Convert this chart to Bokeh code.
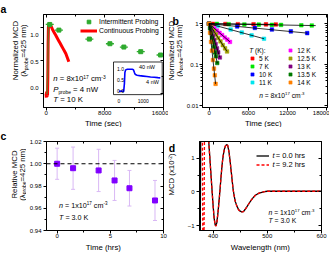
import math
from bokeh.plotting import figure
from bokeh.models import (Label, Legend, LegendItem, FixedTicker, LinearAxis, LogAxis,
                          Span, Whisker, ColumnDataSource, Range1d, TeeHead, Title,
                          NumeralTickFormatter, CustomJSTickFormatter)
from bokeh.layouts import column, row
from bokeh.embed import file_html
from bokeh.resources import INLINE
from bokeh.core.properties import value

FONT = "Liberation Sans"

# ---------------- panel a data ----------------
cont_t = [0, 40, 80, 120, 160, 200, 240, 280, 320, 380, 450, 550, 700, 900, 1100, 1300,
          1500, 1700, 1900, 2100, 2300, 2500, 2700, 2900, 3100]
cont_v = [0.0, -0.06, 0.03, -0.05, 0.02, -0.03, 0.25, 0.75, 1.0, 1.05, 1.05, 1.04, 1.01,
          0.96, 0.92, 0.88, 0.84, 0.80, 0.76, 0.72, 0.68, 0.64, 0.60, 0.54, 0.48]
rise_t = [0, 150, 250, 320, 420]
rise_v = [0.0, 0.0, 0.45, 0.98, 1.04]
inter_t = [500, 1750, 5900, 8700, 10600, 12900, 15600]
inter_v = [1.04, 0.955, 0.82, 0.75, 0.70, 0.63, 0.58]
inset_t = [0, 100, 200, 230, 250, 280, 350, 450, 550, 600, 640, 680, 750, 850, 1000,
           1150, 1300, 1450, 1600, 1700]
inset_v = [0.0, 0.02, 0.0, 0.35, 0.85, 0.97, 1.0, 1.0, 1.0, 0.98, 0.85, 0.76, 0.73, 0.71,
           0.69, 0.67, 0.65, 0.64, 0.62, 0.61]
a_xticks = [0, 8000, 16000]
a_xminor = [4000, 12000]
a_yticks = [0.0, 0.5, 1.0]
a_ylabels = ["0.0", "0.5", "1.0"]
a_yminor = [0.25, 0.75]
a_yrange = (-0.21, 1.19)
inset_xticks = [0, 1000]
inset_xlabels = ["0", "1000"]
inset_yticks = [0.0, 0.5, 1.0]
inset_ylabels = ["0.0", "0.5", "1.0"]
inset_notes = ["40 nW", "4 nW"]
inset_note_t = [1155, 1380]
inset_note_v = [1.07, 0.40]

# ---------------- panel b data ----------------
t5 = [0, 600, 2500, 4400, 6800, 8700, 10200]
v5 = [1.0, 0.99, 0.985, 0.975, 0.97, 0.965, 0.96]
t7 = [0, 1200, 3000, 5400, 7600, 9600, 11000, 14100, 15700]
v7 = [1.0, 0.99, 0.975, 0.96, 0.95, 0.94, 0.935, 0.915, 0.905]
t10 = [0, 4300, 7000, 9600, 12500, 15000]
v10 = [1.0, 0.86, 0.79, 0.72, 0.65, 0.59]
t11 = [0, 1300, 3300, 5000, 6500, 8400]
v11 = [1.0, 0.89, 0.72, 0.61, 0.52, 0.43]
t12 = [0, 400, 800, 1200, 1600, 2000, 2400, 2800, 3200]
v12 = [1.0, 0.88, 0.77, 0.68, 0.60, 0.53, 0.46, 0.41, 0.36]
t125 = [0, 350, 700, 1050, 1400, 1750, 2100, 2450, 2750]
v125 = [1.0, 0.82, 0.67, 0.55, 0.45, 0.37, 0.30, 0.25, 0.21]
t13 = [0, 200, 400, 600, 800, 1000, 1200, 1400, 1650]
v13 = [1.0, 0.79, 0.63, 0.50, 0.40, 0.32, 0.25, 0.20, 0.15]
t135 = [0, 150, 300, 450, 600, 750, 900, 1050, 1250]
v135 = [1.0, 0.77, 0.59, 0.45, 0.35, 0.27, 0.20, 0.16, 0.11]
t14 = [0, 150, 300, 450, 600, 750, 880, 1000]
v14 = [1.0, 0.60, 0.36, 0.22, 0.13, 0.08, 0.055, 0.034]
b_labels = ["5 K", "7 K", "10 K", "11 K", "12 K", "12.5 K", "13 K", "13.5 K", "14 K"]
b_colors = ["#ff0000", "#00e600", "#0000ff", "#00e5ee", "#ff00ff", "#a0a000", "#800080",
            "#007a00", "#ff8000"]
fit_t0 = [0, 0, 0, 0, 0, 0, 0, 0, 0]
fit_v0 = [1, 1, 1, 1, 1, 1, 1, 1, 1]
fit_t1 = [10200, 16300, 15000, 8400, 3200, 2750, 1650, 1250, 1000]
fit_v1 = [0.96, 0.90, 0.59, 0.43, 0.36, 0.21, 0.15, 0.11, 0.034]
b_xticks = [0, 6000, 12000, 18000]
b_xminor = [3000, 9000, 15000]
b_yticks = [0.01, 0.1, 1]
b_yminor = [0.02, 0.03, 0.04, 0.05, 0.06, 0.07, 0.08, 0.09,
            0.2, 0.3, 0.4, 0.5, 0.6, 0.7, 0.8, 0.9]

# ---------------- panel c data ----------------
c_t = [0, 1.5, 3.9, 5.4, 6.8, 9.2]
c_rel = [1.000, 0.996, 0.994, 0.985, 0.978, 0.967]
c_err = [0.014, 0.019, 0.019, 0.018, 0.016, 0.018]
c_xticks = [0, 5, 10]
c_xminor = [2.5, 7.5]
c_yticks = [0.94, 0.96, 0.98, 1.00, 1.02]
c_yminor = [0.95, 0.97, 0.99, 1.01]

# ---------------- panel d data ----------------
wl0 = [375, 376, 377.5, 379, 383, 387, 390, 392, 394, 396, 398, 400, 402, 404, 405.5, 407,
       409, 411, 413, 415, 417, 419, 421, 423, 425, 427, 429, 431, 433, 435, 437, 439, 441,
       444, 447, 450, 453, 456, 459, 462, 466, 470, 474, 478, 482, 486, 490, 495, 500, 520,
       540, 560, 580, 600]
mcd0 = [2.5, -3.0, 3.0, 3.0, 3.0, 2.4, 1.95, 1.5, 1.03, 0.55, 0.08, -0.38, -0.78, -0.98,
        -1.0, -0.9, -0.62, -0.28, 0.1, 0.5, 0.85, 1.1, 1.27, 1.36, 1.40, 1.37, 1.22, 0.98,
        0.68, 0.38, 0.08, -0.12, -0.28, -0.42, -0.52, -0.57, -0.59, -0.58, -0.52, -0.45,
        -0.35, -0.25, -0.17, -0.10, -0.06, -0.03, -0.01, 0.01, 0.02, 0.02, 0.02, 0.02,
        0.02, 0.02]
wl9 = [375, 380, 381.5, 383, 384.5, 387, 390, 392, 394, 396, 398, 400, 402, 404, 405.5,
       407, 409, 411, 413, 415, 417, 419, 421, 423, 425, 427, 429, 431, 433, 435, 437, 439,
       441, 444, 447, 450, 453, 456, 459, 462, 466, 470, 474, 478, 482, 486, 490, 495, 500,
       520, 540, 560, 580, 600]
mcd9 = [3.0, 3.0, -3.0, -3.0, 3.0, 2.4, 1.95, 1.5, 1.02, 0.54, 0.07, -0.39, -0.79, -0.99,
        -1.01, -0.91, -0.63, -0.29, 0.09, 0.5, 0.86, 1.11, 1.28, 1.37, 1.41, 1.38, 1.22,
        0.97, 0.67, 0.37, 0.07, -0.13, -0.29, -0.43, -0.53, -0.58, -0.59, -0.58, -0.52,
        -0.45, -0.35, -0.25, -0.17, -0.10, -0.06, -0.03, -0.01, 0.01, 0.02, 0.02, 0.02,
        0.02, 0.02, 0.02]
d_xticks = [400, 500, 600]
d_xminor = [450, 550]
d_yticks = [-1, 0, 1]
d_yminor = [-0.5, 0.5]

GREEN = "#2eaa2e"
AX = 7.8      # axis-title font size (px)

# ---------------- helpers ----------------
CW = {' ': .278, '(': .333, ')': .333, '-': .333, '.': .278, '=': .584, ':': .278,
      'x': .5, 'a': .556, 'b': .556, 'c': .5, 'd': .556, 'e': .556, 'g': .556, 'h': .556,
      'i': .222, 'k': .5, 'l': .222, 'm': .833, 'n': .556, 'o': .556, 'p': .556, 'r': .333,
      's': .5, 't': .278, 'u': .556, 'v': .5, 'W': .944, 'z': .5, 'K': .667, 'T': .611,
      'P': .667, 'M': .833, 'C': .722, 'D': .722, 'N': .722, 'R': .722, 'I': .278,
      'λ': .5, 'f': .278, 'y': .5, 'w': .722, 'L': .556}


def tw(s, size):
    return sum(CW.get(ch, .556) for ch in s) * size


def runs(p, x, y, parts, rot=False, center=False, baseline="middle"):
    """Place a run of text pieces (text, size, style, baseline shift) in frame px."""
    total = sum(tw(t, s) for t, s, st, sh in parts)
    off = -total / 2 if center else 0.0
    for t, s, st, sh in parts:
        lead = len(t) - len(t.lstrip(' '))
        off += lead * CW[' '] * s
        core = t.strip(' ')
        if rot:
            lx, ly, ang = x - sh, y + off, math.pi / 2
        else:
            lx, ly, ang = x + off, y + sh, 0.0
        if core:
            p.add_layout(Label(x=lx, y=ly, x_units="screen", y_units="screen", text=core,
                               angle=ang, text_font=FONT, text_font_size=f"{s}px",
                               text_font_style=st, text_color="black", text_align="left",
                               text_baseline=baseline))
        off += tw(t.lstrip(' '), s)


def style_axis(ax, ticks, minor, standoff):
    ax.ticker = FixedTicker(ticks=ticks, minor_ticks=minor)
    ax.axis_line_color = "black"
    ax.major_tick_line_color = "black"
    ax.minor_tick_line_color = "black"
    ax.major_tick_out = 3
    ax.major_tick_in = 0
    ax.minor_tick_out = 2
    ax.minor_tick_in = 0
    ax.major_label_text_font = FONT
    ax.major_label_text_font_size = "6px"
    ax.major_label_text_color = "black"
    ax.major_label_standoff = standoff


def mirror(p, ticks, minor, place, log=False):
    Axis = LogAxis if log else LinearAxis
    ax = Axis(ticker=FixedTicker(ticks=ticks, minor_ticks=minor),
              formatter=CustomJSTickFormatter(code="return ''"),
              major_tick_in=3, major_tick_out=0, minor_tick_in=2, minor_tick_out=0,
              major_label_text_font_size="0px", major_label_standoff=0,
              axis_line_color="black", major_tick_line_color="black",
              minor_tick_line_color="black")
    p.add_layout(ax, place)


def make(w, h, left, right, top, bottom, xr, yr, ytype="linear"):
    p = figure(width=w, height=h, x_range=xr, y_range=yr, y_axis_type=ytype, title=None,
               output_backend="svg", toolbar_location=None,
               min_border_left=left, min_border_right=right, min_border_top=top,
               min_border_bottom=bottom, background_fill_color="white",
               border_fill_color="white", border_fill_alpha=0.0,
               outline_line_color="black", outline_line_width=1)
    p.grid.visible = False
    return p


def strip(w, h):
    s = figure(width=w, height=h, x_range=(0, w), y_range=(0, h), output_backend="svg",
               title=None, toolbar_location=None, x_axis_location=None,
               y_axis_location=None, min_border=0, min_border_left=0, min_border_right=0,
               min_border_top=0, min_border_bottom=0, outline_line_color=None,
               background_fill_color="white", background_fill_alpha=0.0,
               border_fill_color="white", border_fill_alpha=0.0)
    s.grid.visible = False
    return s


def ylab2(p, x1, x2, yc, first):
    runs(p, x1, yc, [(first, AX, "normal", 0)], rot=True, center=True)
    runs(p, x2, yc, [("(λ", AX, "normal", 0), ("probe", 5.0, "normal", -2.3),
                     ("=425 nm)", AX, "normal", 0)], rot=True, center=True)


def legend(p, items, loc, gw, gh, standoff, size):
    lg = Legend(items=items, location=loc, glyph_width=gw, glyph_height=gh,
                label_height=gh, label_standoff=standoff, spacing=0, padding=0, margin=0,
                border_line_alpha=0, background_fill_alpha=0,
                label_text_font=FONT, label_text_font_size=f"{size}px",
                label_text_color="black")
    p.add_layout(lg)


def density(p, x, y, n, size, sup):
    S = size
    runs(p, x, y, [("n", S, "italic", 0), (f" = {n}x10", S, "normal", 0),
                   ("17", sup, "normal", 0.28 * S), (" cm", S, "normal", 0),
                   ("-3", sup, "normal", 0.28 * S)])


def letter_title(s, letter, offset):
    s.add_layout(Title(text=letter, align="left", offset=offset, standoff=0,
                       text_font=FONT, text_font_size="10.5px", text_font_style="bold",
                       text_color="black", vertical_align="bottom"), "above")


def letter_glyph(s, x, letter):
    s.text(x=[x], y=[s.height - 0.5], text=[letter], text_font=value(FONT),
           text_font_size="10.5px", text_font_style="bold", text_color="black",
           text_align="left", text_baseline="top")


# ---------------- panel a ----------------
PA_BOTTOM, PA_FH = 10, 94
pa = make(128, 117, 3, 5, 13, PA_BOTTOM, (-350, 16000), a_yrange)
style_axis(pa.xaxis[0], a_xticks, a_xminor, 0)
style_axis(pa.yaxis[0], a_yticks, a_yminor, 0)
pa.yaxis[0].formatter = CustomJSTickFormatter(code="return ''")
pa.yaxis[0].major_label_text_font_size = "0px"
mirror(pa, a_xticks, a_xminor, "above")
mirror(pa, a_yticks, a_yminor, "right")

# inset placement inside the 120 x 94 px frame: t=0 at 75.3 px, t=1000 at 99.7 px;
# value 0 at 16.3 px, value 1 at 38.7 px above the frame bottom
FW, FH = 120.0, 94.0
IX0, IX1, IY0, IY1 = 75.3, 99.7, 16.3, 38.7
ipx = (IX1 - IX0) / 1000.0
ipy = (IY1 - IY0) / 1.0
pa.extra_x_ranges = {"ins": Range1d(-IX0 / ipx, (FW - IX0) / ipx)}
pa.extra_y_ranges = {"ins": Range1d(-IY0 / ipy, (FH - IY0) / ipy)}
kw = dict(x_range_name="ins", y_range_name="ins")
pa.quad(left=[(70 - IX0) / ipx], right=[(118.7 - IX0) / ipx],
        bottom=[(13 - IY0) / ipy], top=[(46 - IY0) / ipy],
        fill_color="white", line_color="black", line_width=0.8, **kw)

r_cont = pa.line(cont_t, cont_v, color="#ff0000", line_width=3)
pa.line(rise_t, rise_v, color=GREEN, line_width=1.5, alpha=0.6)
r_intd = pa.scatter(inter_t, inter_v, marker="dash", size=8, line_color=GREEN,
                    line_width=1.3)
r_int = pa.scatter(inter_t, inter_v, marker="square", size=4, fill_color=GREEN,
                   line_color=GREEN)
legend(pa, [LegendItem(label="Intermittent Probing", renderers=[r_intd, r_int]),
            LegendItem(label="Continuous Probing", renderers=[r_cont])],
       (37, 72.5), 17, 9, 2, 6.8)
pa.line(inset_t, inset_v, color="#0000ff", line_width=1.6, **kw)

for tv, tl in zip(inset_yticks, inset_ylabels):
    runs(pa, IX0 + 70 * ipx, IY0 + tv * ipy, [(tl, 5, "normal", 0)], center=True)
for tv, tl in zip(inset_xticks, inset_xlabels):
    runs(pa, IX0 + tv * ipx, IY0 - 0.45 * ipy, [(tl, 5, "normal", 0)], center=True)
for tt, tv, tl in zip(inset_note_t, inset_note_v, inset_notes):
    runs(pa, IX0 + tt * ipx, IY0 + tv * ipy, [(tl, 5.5, "normal", 0)], center=True)

S = 7.8
density(pa, 9.7, 28.7, "8", S, 4.9)
runs(pa, 9.7, 17.7, [("P", S, "italic", 0), ("probe", 4.9, "normal", -0.31 * S),
                     (" = 4 nW", S, "normal", 0)])
runs(pa, 9.7, 7.7, [("T", S, "italic", 0), (" = 10 K", S, "normal", 0)])

ya = strip(40, 117)
letter_title(ya, "a", 0)
# panel-a value labels, right-aligned 2 px left of the axis ticks (drawn as text glyphs)
a_label_y = [PA_BOTTOM + (tv - a_yrange[0]) / (a_yrange[1] - a_yrange[0]) * PA_FH
             for tv in a_yticks]
ya.text(x=[38] * len(a_yticks), y=a_label_y, text=a_ylabels, text_font=value(FONT),
        text_font_size="6px", text_color="black", text_align="right",
        text_baseline="middle")
ylab2(ya, 14.5, 23.0, 57.0, "Normalized MCD")

# ---------------- panel b ----------------
pb = make(146, 117, 16, 2, 13, 10, (-1000, 18100), (0.009, 1.68), ytype="log")
style_axis(pb.xaxis[0], b_xticks, b_xminor, 0)
style_axis(pb.yaxis[0], b_yticks, b_yminor, 1)
pb.yaxis[0].formatter = NumeralTickFormatter(format="0.[00]")
mirror(pb, b_xticks, b_xminor, "above")
mirror(pb, b_yticks, b_yminor, "right", log=True)

b_series = [(t5, v5), (t7, v7), (t10, v10), (t11, v11), (t12, v12), (t125, v125),
            (t13, v13), (t135, v135), (t14, v14)]
b_rends = []
for (tt, vv), col in zip(b_series, b_colors):
    b_rends.append(pb.scatter(tt, vv, marker="square", size=3.6, fill_color=col,
                              line_color=col, line_width=0.5))
pb.segment(x0=fit_t0, y0=fit_v0, x1=fit_t1, y1=fit_v1, line_color="black",
           line_width=0.8)
legend(pb, [LegendItem(label=l, renderers=[r]) for l, r in zip(b_labels[:4], b_rends[:4])],
       (46, 21), 8, 8, 3, 6.5)
legend(pb, [LegendItem(label=l, renderers=[r]) for l, r in zip(b_labels[4:], b_rends[4:])],
       (84.3, 21), 8, 8, 3, 6.5)
runs(pb, 46.7, 57, [("T", 6.5, "italic", 0), (" (K):", 6.5, "normal", 0)])
density(pb, 56.7, 12, "8", 6.7, 4.3)

yb = strip(15, 117)
letter_glyph(yb, 4, "b")
ylab2(yb, 3.2, 10.5, 57.0, "Normalized MCD")

xs_top = strip(329, 10)
runs(xs_top, 103, 6, [("Time (sec)", AX, "normal", 0)], center=True)
runs(xs_top, 263, 6, [("Time (sec)", AX, "normal", 0)], center=True)

# ---------------- panel c ----------------
pc = make(142, 113, 17, 5, 11, 10, (-1.0, 10.0), (0.94, 1.02))
style_axis(pc.xaxis[0], c_xticks, c_xminor, 0)
style_axis(pc.yaxis[0], c_yticks, c_yminor, 2)
pc.yaxis[0].formatter = NumeralTickFormatter(format="0.00")
mirror(pc, c_xticks, c_xminor, "above")
mirror(pc, c_yticks, c_yminor, "right")
ERRC = "#d9b8f5"
c_src = ColumnDataSource(dict(t=c_t, v=c_rel,
                              up=[v + e for v, e in zip(c_rel, c_err)],
                              lo=[v - e for v, e in zip(c_rel, c_err)]))
pc.add_layout(Whisker(base="t", upper="up", lower="lo", source=c_src,
                      line_color=ERRC, line_width=1,
                      upper_head=TeeHead(size=4, line_color=ERRC, line_width=1),
                      lower_head=TeeHead(size=4, line_color=ERRC, line_width=1)))
pc.add_layout(Span(location=1.0, dimension="width", line_color="black", line_width=1.2,
                   line_dash="4 3"))
pc.scatter("t", "v", source=c_src, marker="square", size=5, fill_color="#8000ff",
           line_color="#8000ff")
density(pc, 12.5, 25, "1", 7.2, 4.5)
runs(pc, 12.5, 13.3, [("T", 7.2, "italic", 0), (" = 3.0 K", 7.2, "normal", 0)])

yc = strip(26, 113)
letter_title(yc, "c", 0)
ylab2(yc, 13.5, 21.5, 56.0, "Relative MCD")

# ---------------- panel d ----------------
pd_ = make(145, 113, 15, 8, 11, 10, (375, 600), (-1.14, 1.49))
style_axis(pd_.xaxis[0], d_xticks, d_xminor, 0)
style_axis(pd_.yaxis[0], d_yticks, d_yminor, 2)
mirror(pd_, d_xticks, d_xminor, "above")
mirror(pd_, d_yticks, d_yminor, "right")
r0 = pd_.line(wl0, mcd0, color="black", line_width=1.3)
r9 = pd_.line(wl9, mcd9, color="#ff0000", line_width=1.3, line_dash="3 2")
legend(pd_, [LegendItem(label="= 0.0 hrs", renderers=[r0]),
             LegendItem(label="= 9.2 hrs", renderers=[r9])],
       (56.7, 61.2), 13, 9, 7, 7.5)
runs(pd_, 73, 74.7, [("t", 7.5, "italic", 0)])
runs(pd_, 73, 65.7, [("t", 7.5, "italic", 0)])
density(pd_, 69, 18.3, "1", 6.8, 4.3)
runs(pd_, 69, 10, [("T", 6.8, "italic", 0), (" = 3.0 K", 6.8, "normal", 0)])

yd = strip(16, 113)
letter_glyph(yd, 0.3, "d")
runs(yd, 3.2, 56.0, [("MCD (x10", AX, "normal", 0), ("-2", 5.0, "normal", 2.2),
                     (")", AX, "normal", 0)], rot=True, center=True)

xs_bot = strip(329, 13)
runs(xs_bot, 103, 6.5, [("Time (hrs)", AX, "normal", 0)], center=True)
runs(xs_bot, 260, 6.5, [("Wavelength (nm)", AX, "normal", 0)], center=True)

layout = column(row(ya, pa, yb, pb), xs_top, row(yc, pc, yd, pd_), xs_bot)
open("out.html", "w").write(file_html(layout, INLINE))
